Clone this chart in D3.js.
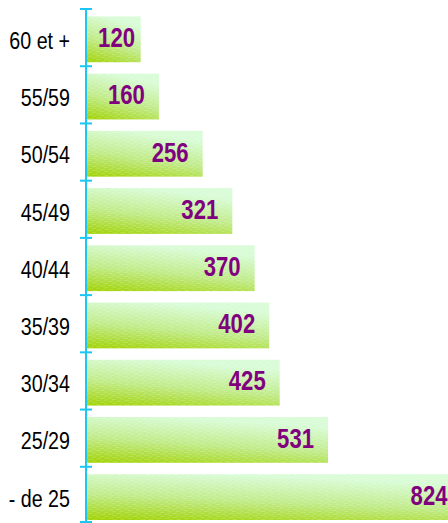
<!DOCTYPE html>
<html>
<head>
<meta charset="utf-8">
<script src="https://cdn.jsdelivr.net/npm/d3@7"></script>
<style>
	html, body { margin: 0; padding: 0; background: #fff; }
	svg { display: block; }
	.cat { font-family: 'Liberation Sans', Arial, sans-serif; font-size: 24px; fill: #000; }
	.val { font-family: 'Liberation Sans', Arial, sans-serif; font-size: 27px; font-weight: bold; fill: #800080; }
</style>
</head>
<body>
<svg id="chart"></svg>
<script>
const WIDTH = 448;
const HEIGHT = 523;
const AXIS_X = 86;
const AXIS_COLOR = '#1cc6f2';
const NARROW = 0.82; // fake Arial Narrow by squeezing Liberation Sans

const categories = ['60 et +', '55/59', '50/54', '45/49', '40/44', '35/39', '30/34', '25/29', '- de 25'];
const values = [120, 160, 256, 321, 370, 402, 425, 531, 824];

const svg = d3.select('#chart').attr('width', WIDTH).attr('height', HEIGHT);

const x = d3.scaleLinear().domain([0, 531]).range([AXIS_X, 328]);
const y = d3.scaleBand().domain(categories).range([9, 524]);
const bw = y.bandwidth();

// gradient + light dash texture
const defs = svg.append('defs');
const grad = defs.append('linearGradient')
	.attr('id', 'barGrad')
	.attr('x1', 0).attr('y1', 1)
	.attr('x2', 0.35).attr('y2', 0);
grad.append('stop').attr('offset', '0%').attr('stop-color', '#a0d200');
grad.append('stop').attr('offset', '50%').attr('stop-color', '#c0eb88');
grad.append('stop').attr('offset', '100%').attr('stop-color', '#d8fcd6');

const pat = defs.append('pattern')
	.attr('id', 'dash')
	.attr('patternUnits', 'userSpaceOnUse')
	.attr('width', 8).attr('height', 4)
	.attr('patternTransform', 'rotate(-4)');
pat.append('rect').attr('x', 0).attr('y', 0).attr('width', 5).attr('height', 1).attr('fill', '#fff').attr('opacity', 0.2);
pat.append('rect').attr('x', 4).attr('y', 2).attr('width', 5).attr('height', 1).attr('fill', '#fff').attr('opacity', 0.2);

const rows = categories.map((c, i) => ({ cat: c, value: values[i] }));

const bars = svg.append('g');
bars.selectAll('.bar')
	.data(rows)
	.enter()
	.append('rect')
	.attr('class', 'bar')
	.attr('x', x(0))
	.attr('y', d => y(d.cat) + bw * 0.13)
	.attr('width', d => x(d.value) - x(0))
	.attr('height', bw * 0.8)
	.attr('fill', 'url(#barGrad)');
bars.selectAll('.tex')
	.data(rows)
	.enter()
	.append('rect')
	.attr('class', 'tex')
	.attr('x', x(0))
	.attr('y', d => y(d.cat) + bw * 0.13)
	.attr('width', d => x(d.value) - x(0))
	.attr('height', bw * 0.8)
	.attr('fill', 'url(#dash)');

// value labels
svg.selectAll('.val')
	.data(rows)
	.enter()
	.append('text')
	.attr('class', 'val')
	.attr('text-anchor', 'end')
	.attr('transform', d => `translate(${Math.max(x(d.value) - 14, x(0) + 49)},${y(d.cat) + bw * 0.5}) scale(${NARROW},1)`)
	.attr('dy', '0.35em')
	.text(d => d.value);

// category axis
const axis = svg.append('g');
axis.append('line')
	.attr('x1', AXIS_X).attr('x2', AXIS_X)
	.attr('y1', y.range()[0]).attr('y2', y.range()[1])
	.attr('stroke', AXIS_COLOR).attr('stroke-width', 2);
const tickY = categories.map(c => y(c)).concat([y.range()[1] - 2]);
axis.selectAll('.tick')
	.data(tickY)
	.enter()
	.append('line')
	.attr('x1', AXIS_X - 6).attr('x2', AXIS_X + 6)
	.attr('y1', d => d).attr('y2', d => d)
	.attr('stroke', AXIS_COLOR).attr('stroke-width', 2);

axis.selectAll('.cat')
	.data(rows)
	.enter()
	.append('text')
	.attr('class', 'cat')
	.attr('text-anchor', 'end')
	.attr('transform', d => `translate(70,${y(d.cat) + bw * 0.55}) scale(${NARROW},1)`)
	.attr('dy', '0.35em')
	.text(d => d.cat);
</script>
</body>
</html>
